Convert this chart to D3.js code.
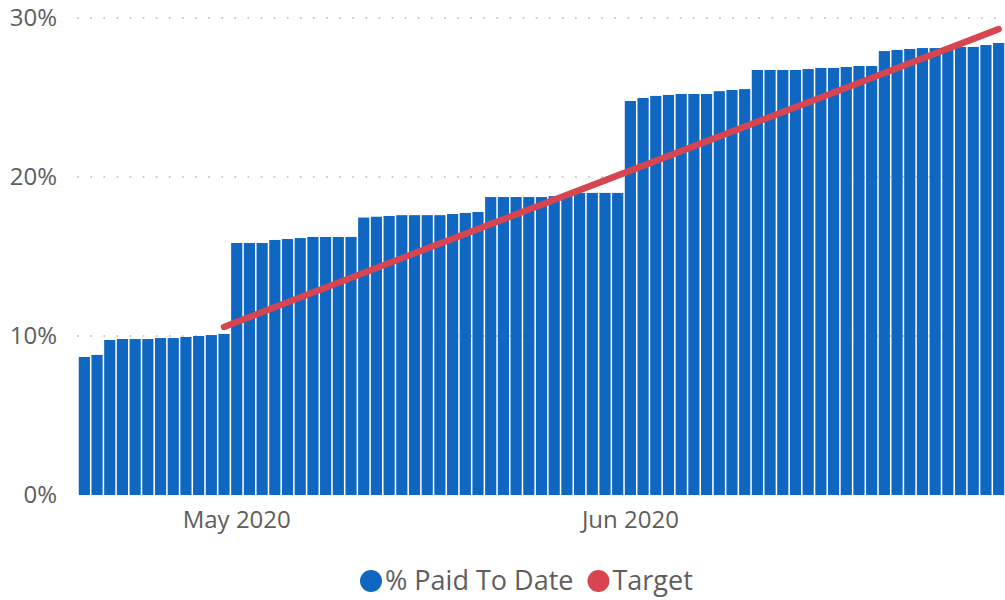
<!DOCTYPE html>
<html>
<head>
<meta charset="utf-8">
<script src="https://cdn.jsdelivr.net/npm/d3@7"></script>
<style>
  body { margin: 0; background: #fff; }
  text { font-family: "Segoe UI", "Open Sans", sans-serif; fill: #605e5c; }
</style>
</head>
<body>
<div id="chart"></div>
<script>
// daily categories, 19 Apr 2020 .. 30 Jun 2020
const firstDay = new Date(2020, 3, 19);
const lastDay = new Date(2020, 5, 30);
const days = d3.timeDay.range(firstDay, d3.timeDay.offset(lastDay, 1));

// % Paid To Date, one value per day
const paidToDate = [
  8.68, 8.81, 9.75, 9.81, 9.81, 9.81, 9.87, 9.87, 9.94, 10.0, 10.06, 10.13,
  15.85, 15.85, 15.85, 16.04, 16.1, 16.16, 16.23, 16.23, 16.23, 16.23,
  17.45, 17.5, 17.55, 17.6, 17.6, 17.6, 17.6, 17.67, 17.74, 17.8,
  18.74, 18.74, 18.74, 18.74, 18.74, 18.8, 18.93, 19.0, 19.0, 19.0, 19.0,
  24.78, 24.97, 25.1, 25.16, 25.22, 25.22, 25.22, 25.4, 25.47, 25.53,
  26.73, 26.73, 26.73, 26.73, 26.79, 26.86, 26.86, 26.92, 26.98, 26.98,
  27.92, 27.99, 28.05, 28.11, 28.11, 28.11, 28.18, 28.18, 28.3, 28.43
];

// Target line, readings at a few dates
const targetDates = [new Date(2020, 3, 30), new Date(2020, 4, 15), new Date(2020, 5, 1), new Date(2020, 5, 16), new Date(2020, 5, 30)];
const targetValues = [10.57, 15.2, 20.4, 25.0, 29.3];

const yTicks = [0, 10, 20, 30];
const legendItems = ["% Paid To Date", "Target"];
const colors = { bar: "#1067c1", target: "#d64550" };

const width = 1005, height = 600;
const margin = { top: 18, right: 0, bottom: 105, left: 78 };

const svg = d3.select("#chart").append("svg")
  .attr("width", width)
  .attr("height", height);

const key = (d) => +d;

const x = d3.scaleBand()
  .domain(days.map(key))
  .range([margin.left, width - margin.right])
  .paddingInner(0.12)
  .paddingOuter(0.06);

const y = d3.scaleLinear()
  .domain([0, 30])
  .range([height - margin.bottom, margin.top]);

// gridlines (dotted)
svg.append("g")
  .selectAll("line")
  .data(yTicks.filter((t) => t > 0))
  .join("line")
  .attr("x1", margin.left)
  .attr("x2", width)
  .attr("y1", (d) => y(d))
  .attr("y2", (d) => y(d))
  .attr("stroke", "#c8c8c8")
  .attr("stroke-width", 2)
  .attr("stroke-linecap", "round")
  .attr("stroke-dasharray", "0.1 13");

// y axis labels
const yAxis = svg.append("g")
  .attr("transform", `translate(${margin.left - 21},0)`)
  .call(d3.axisLeft(y).tickValues(yTicks).tickFormat((d) => d + "%").tickSize(0).tickPadding(0));
yAxis.select(".domain").remove();
yAxis.selectAll("text")
  .style("font-size", "24px")
  .attr("fill", "#605e5c");

// bars
svg.append("g")
  .selectAll("rect")
  .data(paidToDate)
  .join("rect")
  .attr("x", (d, i) => x(key(days[i])))
  .attr("y", (d) => y(d))
  .attr("width", x.bandwidth())
  .attr("height", (d) => y(0) - y(d))
  .attr("fill", colors.bar);

// x axis: month labels at first day of month
const monthStarts = days.filter((d) => d.getDate() === 1).map(key);
const xAxis = svg.append("g")
  .attr("transform", `translate(0,${y(0) + 14})`)
  .call(d3.axisBottom(x).tickValues(monthStarts)
    .tickFormat((d) => d3.timeFormat("%b %Y")(new Date(d))).tickSize(0).tickPadding(0));
xAxis.select(".domain").remove();
xAxis.selectAll("text")
  .style("font-size", "24px")
  .attr("dy", "0.8em")
  .attr("fill", "#605e5c");

// target line
const line = d3.line()
  .x((d, i) => x(key(targetDates[i])) + x.bandwidth() / 2)
  .y((d) => y(d));

svg.append("path")
  .datum(targetValues)
  .attr("d", line)
  .attr("fill", "none")
  .attr("stroke", colors.target)
  .attr("stroke-width", 6.5)
  .attr("stroke-linecap", "round")
  .attr("stroke-linejoin", "round");

// legend
const legend = svg.append("g").attr("transform", "translate(360,581)");
let lx = 0;
legendItems.forEach((name, i) => {
  const g = legend.append("g").attr("transform", `translate(${lx},0)`);
  g.append("circle")
    .attr("cx", 11)
    .attr("cy", 0)
    .attr("r", 11)
    .attr("fill", i === 0 ? colors.bar : colors.target);
  const t = g.append("text")
    .attr("x", 25)
    .attr("dy", "0.35em")
    .style("font-size", "27px")
    .text(name);
  lx += 25 + t.node().getComputedTextLength() + 14;
});
</script>
</body>
</html>
